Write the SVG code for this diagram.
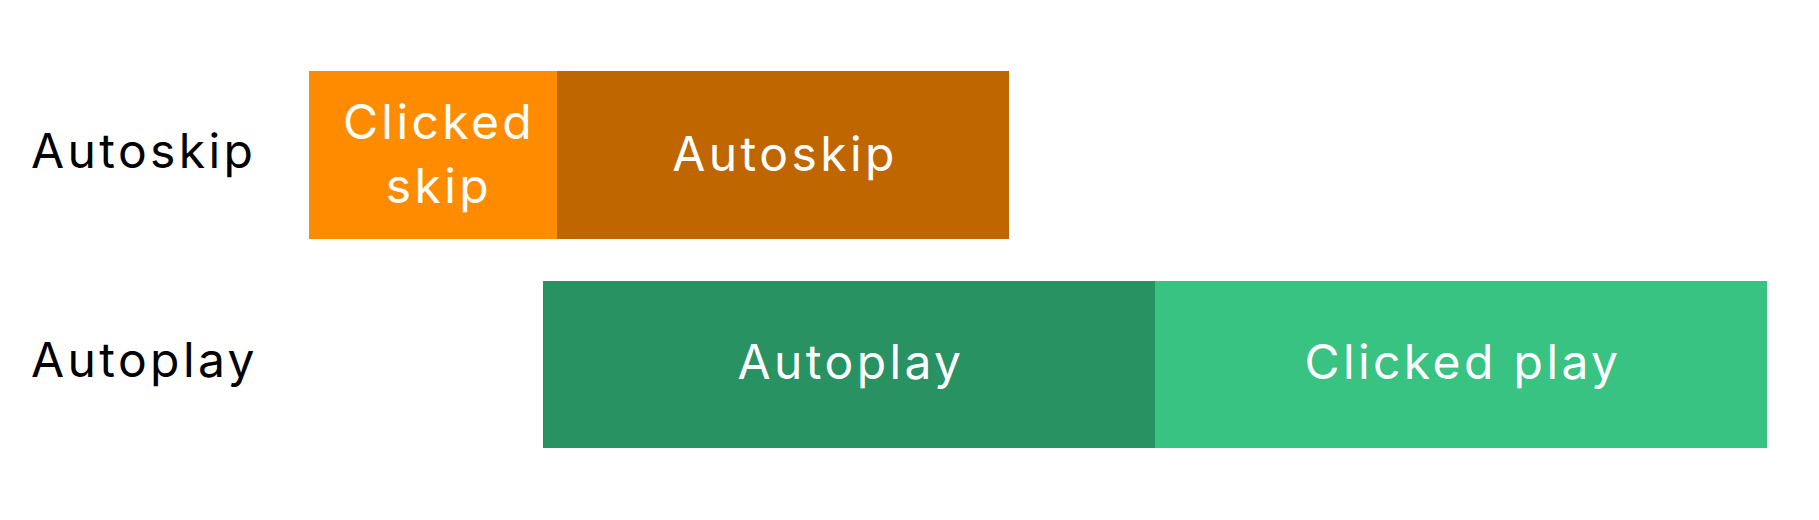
<svg xmlns="http://www.w3.org/2000/svg" width="1819" height="520" viewBox="0 0 1819 520">
<style>
.t{font-family:Inter,"Noto Sans","Liberation Sans",sans-serif;font-size:48px;letter-spacing:3.4px}
.lbl{fill:#000}
.in{fill:#fff;text-anchor:middle}
</style>
<rect width="1819" height="520" fill="#fff"/>
<g id="row-autoskip-label"><text class="t lbl" x="31" y="168">Autoskip</text></g>
<g id="row-autoplay-label"><text class="t lbl" x="31" y="377">Autoplay</text></g>
<g id="clicked-skip">
<rect x="309" y="71" width="248" height="168" fill="#FF8C00"/>
<text class="t in" x="439" y="139">Clicked</text>
<text class="t in" x="439" y="203">skip</text>
</g>
<g id="autoskip">
<rect x="557" y="71" width="452" height="168" fill="#C06600"/>
<text class="t in" x="785" y="171">Autoskip</text>
</g>
<g id="autoplay">
<rect x="543" y="281" width="613" height="167" fill="#289263"/>
<text class="t in" x="851" y="379">Autoplay</text>
</g>
<g id="clicked-play">
<rect x="1155" y="281" width="612" height="167" fill="#38C383"/>
<text class="t in" x="1463" y="379">Clicked play</text>
</g>
<g id="connectors"></g>
</svg>
